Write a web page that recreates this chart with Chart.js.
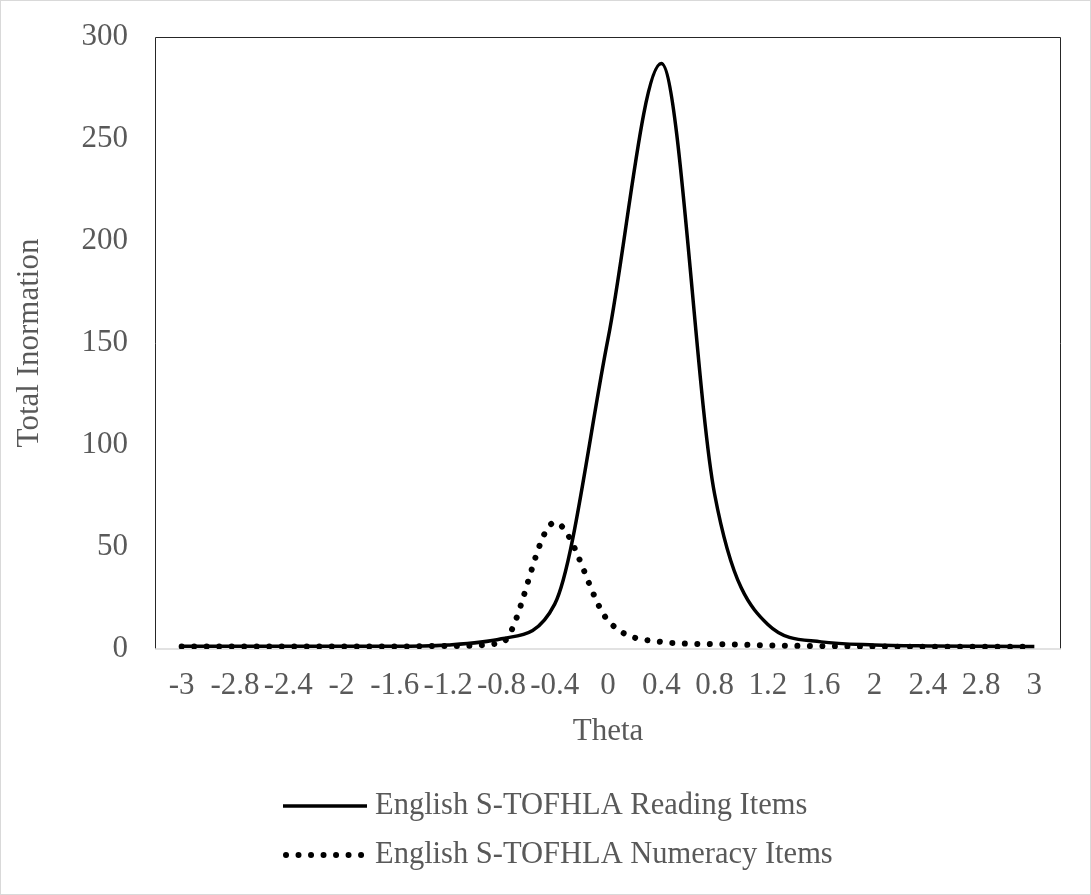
<!DOCTYPE html>
<html lang="en">

<head>
    <meta charset="UTF-8" />
    <title>Total Information by Theta</title>
    <script src="https://cdn.jsdelivr.net/npm/chart.js"></script>
    <style>
        body {
            margin: 0;
            background: #fff;
        }

        #wrap {
            width: 1091px;
            height: 895px;
            position: relative;
        }
    </style>
</head>

<body>
    <div id="wrap">
        <canvas id="infoChart" width="1091" height="895"></canvas>
    </div>

    <script>
        // theta categories as shown on the axis
        const thetaLabels = ['-3', '-2.8', '-2.4', '-2', '-1.6', '-1.2', '-0.8', '-0.4', '0',
            '0.4', '0.8', '1.2', '1.6', '2', '2.4', '2.8', '3'];

        const readingInfo = [1.3, 1.3, 1.3, 1.3, 1.3, 2, 5, 22, 152, 287, 76, 12, 3.5, 2, 1.5, 1.3, 1.2];
        const numeracyInfo = [1.2, 1.2, 1.2, 1.2, 1.2, 1.5, 3, 62, 14, 3.5, 2.4, 1.8, 1.4, 1.2, 1.1, 1.1, 1.1];

        const yTicks = [0, 50, 100, 150, 200, 250, 300];

        const serif = '"Liberation Serif", "Times New Roman", serif';
        const textGrey = '#595959';

        // outer chart border + plot frame
        const framePlugin = {
            id: 'frame',
            beforeDraw(chart) {
                const ctx = chart.ctx;
                ctx.save();
                ctx.fillStyle = '#fff';
                ctx.fillRect(0, 0, chart.width, chart.height);
                ctx.strokeStyle = '#d9d9d9';
                ctx.lineWidth = 1;
                ctx.strokeRect(0.5, 0.5, chart.width - 1, chart.height - 1);
                ctx.restore();
            },
            beforeDatasetsDraw(chart) {
                const { ctx, chartArea: a } = chart;
                ctx.save();
                ctx.strokeStyle = '#262626';
                ctx.lineWidth = 1;
                ctx.beginPath();
                ctx.moveTo(a.left + 0.5, a.bottom);
                ctx.lineTo(a.left + 0.5, a.top + 0.5);
                ctx.lineTo(a.right - 0.5, a.top + 0.5);
                ctx.lineTo(a.right - 0.5, a.bottom);
                ctx.stroke();
                ctx.strokeStyle = '#d9d9d9';
                ctx.lineWidth = 1.5;
                ctx.beginPath();
                ctx.moveTo(a.left, a.bottom);
                ctx.lineTo(a.right, a.bottom);
                ctx.stroke();
                ctx.restore();
            }
        };

        // legend stacked in two rows, entries left aligned
        const legendPlugin = {
            id: 'stackedLegend',
            afterDraw(chart) {
                const ctx = chart.ctx;
                const x0 = 283, sample = 84, gap = 8;
                ctx.save();
                ctx.font = '30.5px ' + serif;
                ctx.textBaseline = 'middle';
                chart.data.datasets.forEach((ds, i) => {
                    const y = 806 + i * 49;
                    ctx.beginPath();
                    ctx.lineWidth = ds.borderWidth;
                    ctx.strokeStyle = ds.borderColor;
                    ctx.setLineDash(ds.borderDash || []);
                    ctx.lineCap = ds.borderCapStyle || 'butt';
                    ctx.moveTo(x0 + (ds.borderDash ? 3 : 0), y);
                    ctx.lineTo(x0 + sample, y);
                    ctx.stroke();
                    ctx.setLineDash([]);
                    ctx.fillStyle = textGrey;
                    ctx.fillText(ds.label, x0 + sample + gap, y);
                });
                ctx.restore();
            }
        };

        new Chart(document.getElementById('infoChart'), {
            type: 'line',
            data: {
                labels: thetaLabels,
                datasets: [{
                    label: 'English S-TOFHLA Reading Items',
                    data: readingInfo,
                    borderColor: '#000',
                    borderWidth: 3.5,
                    pointRadius: 0,
                    cubicInterpolationMode: 'monotone',
                    fill: false
                }, {
                    label: 'English S-TOFHLA Numeracy Items',
                    data: numeracyInfo,
                    borderColor: '#000',
                    borderWidth: 6,
                    borderDash: [0.01, 12.5],
                    borderCapStyle: 'round',
                    pointRadius: 0,
                    cubicInterpolationMode: 'monotone',
                    fill: false
                }]
            },
            options: {
                responsive: false,
                animation: false,
                devicePixelRatio: 1,
                layout: {
                    padding: { top: 37, right: 30, left: 0, bottom: 126 }
                },
                plugins: {
                    legend: { display: false },
                    tooltip: { enabled: false }
                },
                scales: {
                    x: {
                        type: 'category',
                        offset: true,
                        grid: { display: false, drawTicks: false },
                        border: { display: false },
                        ticks: {
                            autoSkip: false,
                            maxRotation: 0,
                            padding: 18,
                            color: textGrey,
                            font: { family: serif, size: 31 }
                        },
                        title: {
                            display: true,
                            text: 'Theta',
                            color: textGrey,
                            font: { family: serif, size: 31 },
                            padding: { top: 0, bottom: 19 }
                        },
                        afterFit(scale) { scale.height = 120; }
                    },
                    y: {
                        min: 0,
                        max: 300,
                        grid: { display: false, drawTicks: false },
                        border: { display: false },
                        afterBuildTicks(scale) { scale.ticks = yTicks.map(v => ({ value: v })); },
                        ticks: {
                            padding: 27,
                            color: textGrey,
                            font: { family: serif, size: 31 }
                        },
                        title: {
                            display: true,
                            text: 'Total Inormation',
                            color: textGrey,
                            font: { family: serif, size: 31 },
                            padding: { top: 11, bottom: 0 }
                        },
                        afterFit(scale) {
                            scale.width = 155;
                            scale.paddingTop = 0;
                            scale.paddingBottom = 0;
                        }
                    }
                }
            },
            plugins: [framePlugin, legendPlugin]
        });
    </script>
</body>

</html>
